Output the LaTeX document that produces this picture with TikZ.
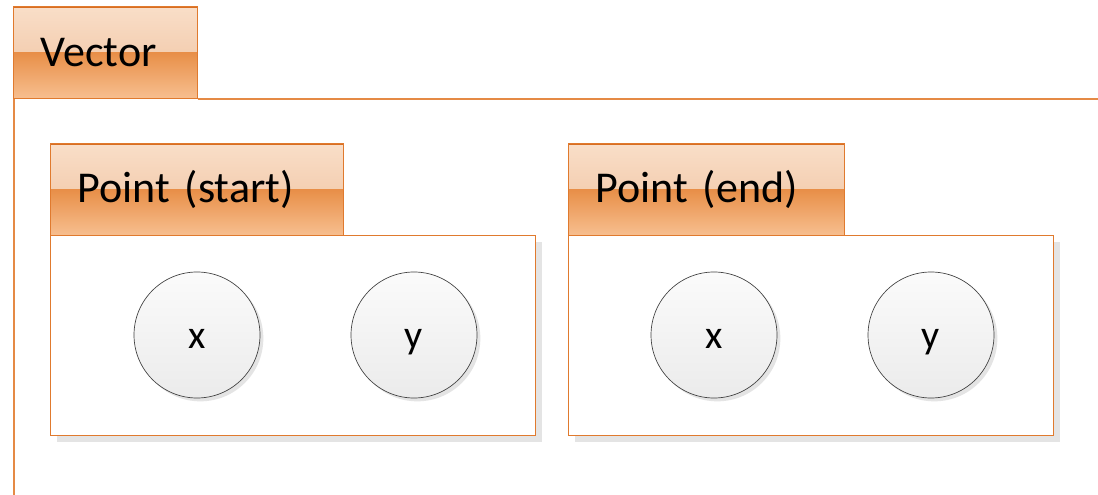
\documentclass[tikz,border=0pt]{standalone}
\usepackage{fontspec}
\setmainfont{Carlito}
\usetikzlibrary{shadows}
\definecolor{obord}{HTML}{E07A2E}
\definecolor{otop}{HTML}{D86E22}
\definecolor{oline}{HTML}{E58A45}
\definecolor{tabA}{HTML}{F9DEC8}
\definecolor{tabB}{HTML}{EFC09C}
\definecolor{tabC}{HTML}{E88F48}
\definecolor{tabD}{HTML}{F7BF90}
\definecolor{shadowgray}{HTML}{E4E4E4}
\definecolor{circA}{HTML}{FBFBFB}
\definecolor{circB}{HTML}{EBEBEB}
\tikzset{
  tab/.style={rectangle, draw=obord, line width=1pt, anchor=north west,
    minimum height=69pt, inner xsep=20.25pt, inner ysep=0pt, align=left,
    font=\fontsize{33}{36}\selectfont,
    path picture={
      \shade[top color=tabA, bottom color=tabB]
        (path picture bounding box.north west) rectangle (path picture bounding box.east);
      \shade[top color=tabC, bottom color=tabD]
        (path picture bounding box.west) rectangle (path picture bounding box.south east);
      \draw[otop, line width=2.2pt] (path picture bounding box.north west) -- (path picture bounding box.north east);
    }},
  container/.style={rectangle, draw=obord, line width=0.8pt, fill=white, anchor=north west,
    minimum width=363.75pt, minimum height=150pt, inner sep=0pt,
    general shadow={fill=shadowgray, shadow xshift=4.5pt, shadow yshift=-4.5pt}},
  field/.style={circle, draw=black!75, line width=0.5pt, minimum size=94.5pt, inner sep=0pt,
    top color=circA, bottom color=circB, text height=19.5pt, text depth=0pt,
    font=\fontsize{30}{32}\selectfont,
    general shadow={fill=shadowgray, shadow xshift=2.5pt, shadow yshift=-2.5pt}},
  frame/.style={draw=oline, line width=1.3pt}
}
\begin{document}
\begin{tikzpicture}[x=0.75pt, y=-0.75pt]
\useasboundingbox (0,0) rectangle (1098,495);
% outer Vector frame lines
\coordinate (vbl) at (14,495);
\coordinate (vtr) at (1098,98);
% containers
\node[container] (boxS) at (50,235) {};
\node[container] (boxE) at (568,235) {};
% tabs
\node[tab, minimum width=138pt, text width=97.5pt] (vtab) at (13,6) {Vector};
\node[tab, minimum width=219.75pt, text width=179.25pt] (stab) at (50,143) {Point (start)};
\node[tab, minimum width=207pt, text width=166.5pt] (etab) at (568,143) {Point (end)};
\draw[frame] (vtab.south east) -- (vtab.south east -| vtr);
\draw[frame] ([xshift=0.75pt]vtab.south west) -- ([xshift=0.75pt]vtab.south west |- vbl);
% fields
\node[field] (sx) at (197,335) {x};
\node[field] (sy) at (414,335) {y};
\node[field] (ex) at (714,335) {x};
\node[field] (ey) at (931,335) {y};
\end{tikzpicture}
\end{document}
